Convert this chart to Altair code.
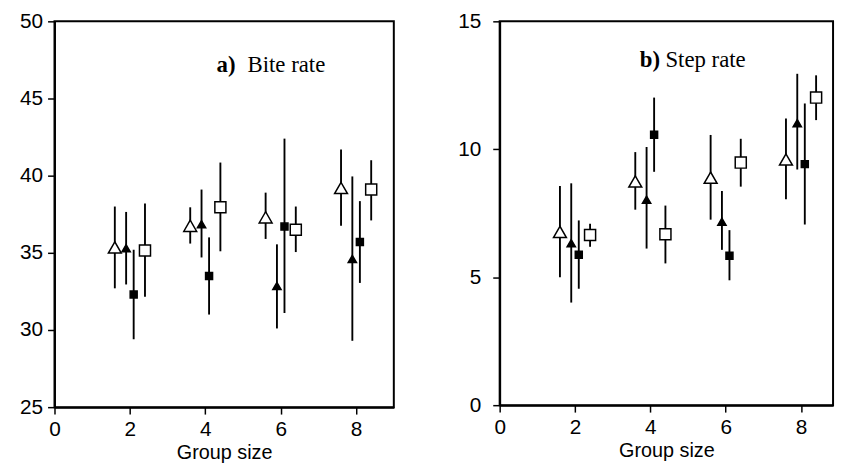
import altair as alt
import pandas as pd

# ---- categories ----
group_sizes = [2, 4, 6, 8]
series = ["open triangle", "filled triangle", "filled square", "open square"]
series_offset = [-0.4, -0.1, 0.1, 0.4]
series_shape = ["triangle-up", "triangle-up", "square", "square"]
series_fill = ["white", "black", "black", "white"]
series_size = [170, 70, 50, 125]

# ---- a) Bite rate (rows = series, cols = group sizes) ----
bite_mean = [[35.35, 36.75, 37.3, 39.2],
             [35.3, 36.85, 32.85, 34.6],
             [32.3, 33.5, 36.7, 35.7],
             [35.15, 37.95, 36.5, 39.1]]
bite_lo = [[32.7, 35.6, 35.9, 36.75],
           [32.95, 34.7, 30.1, 29.3],
           [29.4, 31.0, 31.1, 33.05],
           [32.15, 35.1, 35.05, 37.1]]
bite_hi = [[38.0, 37.95, 38.9, 41.7],
           [37.65, 39.1, 35.55, 39.95],
           [35.2, 36.0, 42.4, 38.35],
           [38.2, 40.85, 38.0, 41.0]]

# ---- b) Step rate ----
step_mean = [[6.77, 8.74, 8.89, 9.6],
             [6.33, 8.03, 7.17, 11.02],
             [5.88, 10.57, 5.84, 9.42],
             [6.65, 6.68, 9.48, 12.02]]
step_lo = [[5.0, 7.64, 7.25, 8.05],
           [4.01, 6.12, 6.07, 9.21],
           [4.55, 9.12, 4.88, 7.06],
           [6.19, 5.54, 8.54, 11.14]]
step_hi = [[8.57, 9.89, 10.56, 11.2],
           [8.67, 10.09, 8.37, 12.95],
           [7.22, 12.02, 6.84, 11.79],
           [7.09, 7.8, 10.41, 12.89]]

# ---- tick labels / panel labels ----
x_ticks = [0, 2, 4, 6, 8]
bite_ticks = [25, 30, 35, 40, 45, 50]
step_ticks = [0, 5, 10, 15]
panel_tags = ["a)", "b)"]
panel_names = ["Bite rate", "Step rate"]


def make_df(mean, lo, hi):
    rows = []
    for si, s in enumerate(series):
        for gi, g in enumerate(group_sizes):
            rows.append(dict(series=s, x=g + series_offset[si],
                             mean=mean[si][gi], lo=lo[si][gi], hi=hi[si][gi]))
    return pd.DataFrame(rows)


def panel(df, ydom, yticks, xmax, width, height, tag, name, tag_x, name_x, lab_y, lab_pad):
    xs = alt.Scale(domain=[0, xmax], nice=False, zero=False)
    ys = alt.Scale(domain=ydom, nice=False, zero=False)
    xa = alt.Axis(values=x_ticks, title="Group size", labelFlush=False,
                  labelPadding=5, titlePadding=3, format="d")
    ya = alt.Axis(values=yticks, title=None, labelPadding=lab_pad,
                  minExtent=46, maxExtent=46, format="d")

    bars = alt.Chart(df).mark_rule(color="black", strokeWidth=1.9).encode(
        x=alt.X("x:Q", scale=xs, axis=xa),
        y=alt.Y("lo:Q", scale=ys, axis=ya),
        y2="hi:Q",
    )
    pts = alt.Chart(df).mark_point(filled=True, stroke="black", strokeWidth=1.5,
                                   opacity=1).encode(
        x=alt.X("x:Q", scale=xs, axis=xa),
        y=alt.Y("mean:Q", scale=ys, axis=ya),
        shape=alt.Shape("series:N", scale=alt.Scale(domain=series, range=series_shape), legend=None),
        fill=alt.Fill("series:N", scale=alt.Scale(domain=series, range=series_fill), legend=None),
        size=alt.Size("series:N", scale=alt.Scale(type="ordinal", domain=series, range=series_size),
                      legend=None),
    )
    tag_df = pd.DataFrame({"x": [tag_x], "y": [lab_y], "t": [tag]})
    name_df = pd.DataFrame({"x": [name_x], "y": [lab_y], "t": [name]})
    tag_txt = alt.Chart(tag_df).mark_text(font="Liberation Serif", fontSize=23, fontWeight="bold",
                                          align="left", baseline="alphabetic", color="black").encode(
        x=alt.X("x:Q", scale=xs, axis=xa), y=alt.Y("y:Q", scale=ys, axis=ya), text="t:N")
    name_txt = alt.Chart(name_df).mark_text(font="Liberation Serif", fontSize=23,
                                            align="left", baseline="alphabetic", color="black").encode(
        x=alt.X("x:Q", scale=xs, axis=xa), y=alt.Y("y:Q", scale=ys, axis=ya), text="t:N")
    return alt.layer(bars, pts, tag_txt, name_txt).properties(width=width, height=height)


left = panel(make_df(bite_mean, bite_lo, bite_hi), [25, 50], bite_ticks, 9.0, 343, 390,
             panel_tags[0], panel_names[0], 4.3, 5.12, 46.7, 5)
right = panel(make_df(step_mean, step_lo, step_hi), [0, 15], step_ticks, 8.85, 337, 388,
              panel_tags[1], panel_names[1], 3.72, 4.4, 13.21, 12)

chart = alt.hconcat(left, right, spacing=59).properties(
    padding={"left": 0, "top": -1, "right": 4, "bottom": 0}
).configure_view(stroke="black", strokeWidth=2).configure_axis(
    domainColor="black", domainWidth=2, tickColor="black", tickWidth=1.5, tickSize=7,
    labelFont="Liberation Sans", labelFontSize=21, labelColor="black",
    titleFont="Liberation Sans", titleFontSize=20, titleFontWeight="normal", titleColor="black",
    grid=False,
)

chart.save("out.html", embed_options={"renderer": "svg", "actions": False})
